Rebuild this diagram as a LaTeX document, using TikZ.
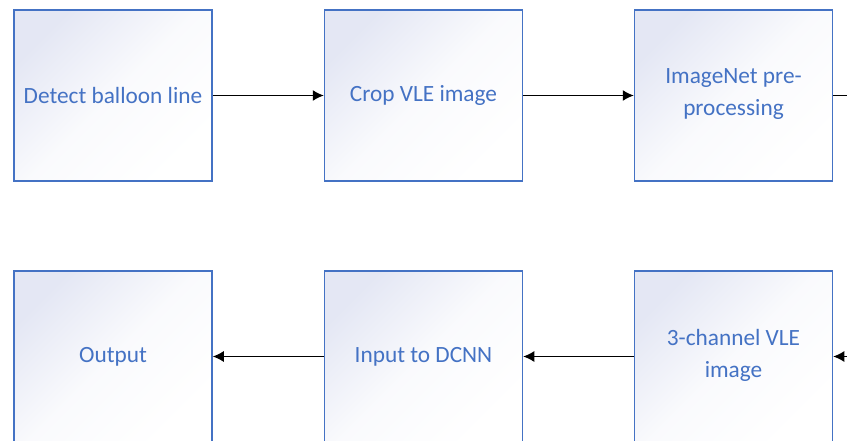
\documentclass[tikz,border=0pt]{standalone}
\usepackage{fontspec}
\setmainfont{Carlito}
\usetikzlibrary{arrows.meta}
\definecolor{stageblue}{HTML}{4472C4}
\definecolor{stagetint}{HTML}{E4E7F4}

\begin{document}
\begin{tikzpicture}
[every node/.style={inner sep=0pt},
 stage/.style={rectangle, minimum width=198pt, minimum height=171pt, line width=1.5pt, draw=stageblue, top color=stagetint, bottom color=white, middle color=white!80!stagetint, shading angle=45, text=stageblue, align=center, font=\fontsize{23.3}{32}\selectfont},
 flow/.style={line width=1.3pt, color=black, -{Latex[length=11pt, width=11pt]}}]
\useasboundingbox (0pt, 0pt) rectangle (847pt, -441pt);
\node (detect) [stage] at (113.0pt, -95.5pt) {Detect balloon line};
\node (crop) [stage] at (423.5pt, -95.5pt) {Crop VLE image};
\node (imagenet) [stage, text depth=6pt] at (733.5pt, -95.5pt) {ImageNet pre-\\processing};
\node (channel) [stage, text depth=6pt] at (733.5pt, -356.5pt) {3-channel VLE\\image};
\node (dcnn) [stage] at (423.5pt, -356.5pt) {Input to DCNN};
\node (output) [stage] at (113.0pt, -356.5pt) {Output};
\coordinate (outright) at (847pt, -95.5pt);
\coordinate (inright) at (847pt, -356.5pt);
\draw [flow] (detect) to (crop);
\draw [flow] (crop) to (imagenet);
\draw [line width=1.3pt, color=black] (imagenet.east) to (outright);
\draw [flow] (inright) to (channel.east);
\draw [flow] (channel) to (dcnn);
\draw [flow] (dcnn) to (output);
\end{tikzpicture}
\end{document}
